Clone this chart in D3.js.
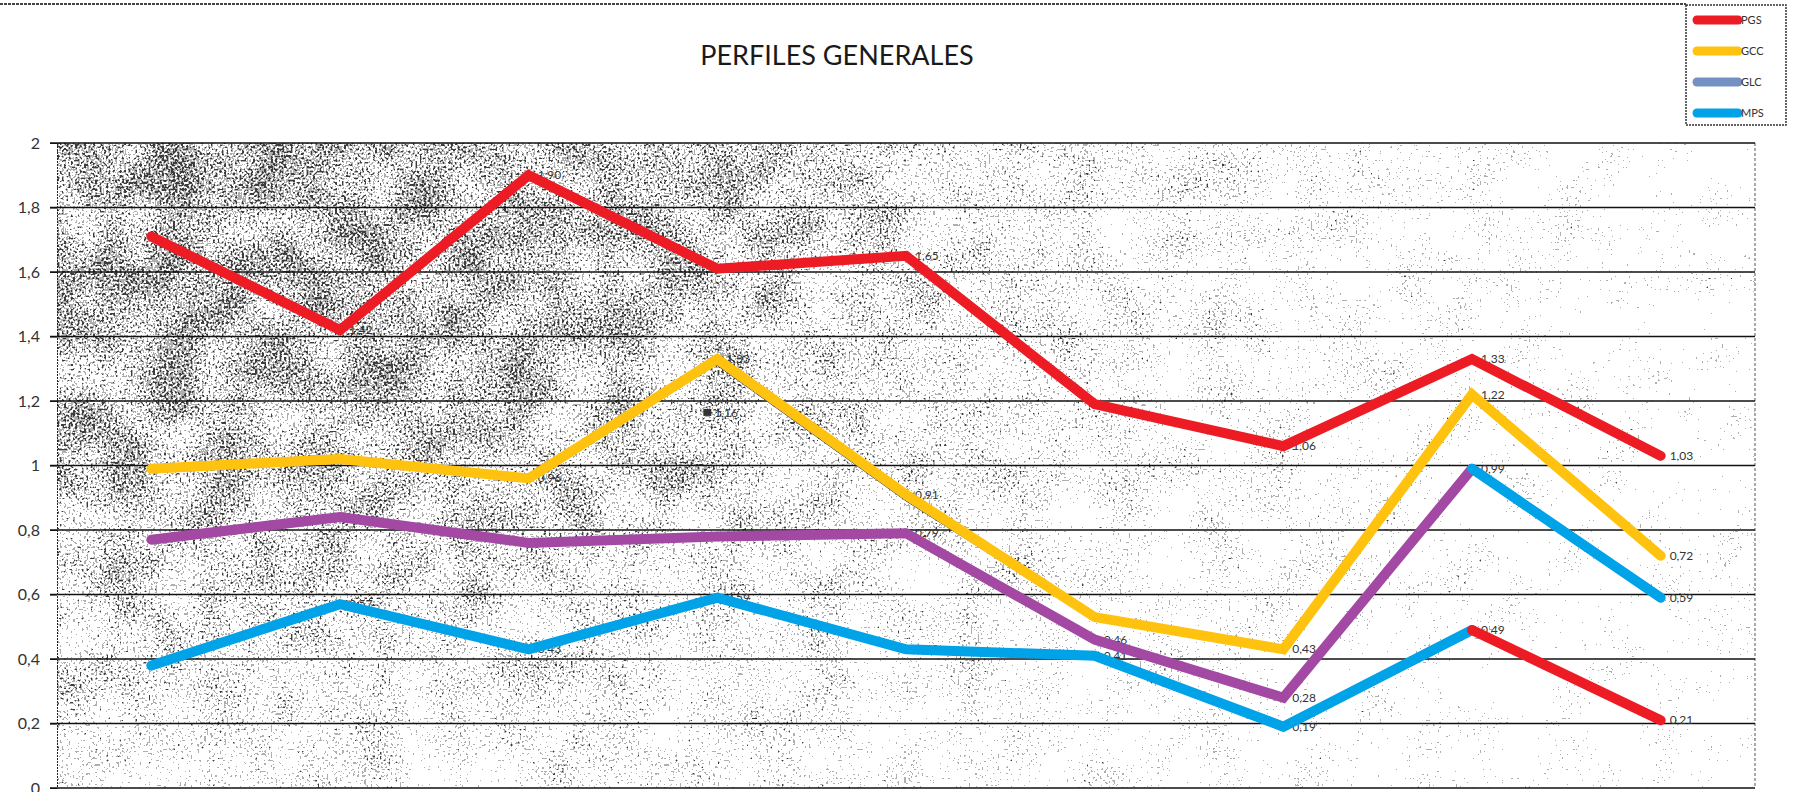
<!DOCTYPE html>
<html>
<head>
<meta charset="utf-8">
<script src="https://cdn.jsdelivr.net/npm/d3@7"></script>
<style>
  body { margin: 0; background: #fff; }
  svg { display: block; }
</style>
</head>
<body>
<div id="chart"></div>
<script>
var width = 1793;
var height = 792;

// data
var categories = ["1", "2", "3", "4", "5", "6", "7", "8", "9"];
var yTicks = [0, 0.2, 0.4, 0.6, 0.8, 1, 1.2, 1.4, 1.6, 1.8, 2];
var pgs    = [1.71, 1.42, 1.90, 1.61, 1.65, 1.19, 1.06, 1.33, 1.03];
var gcc    = [0.99, 1.02, 0.96, 1.33, 0.91, 0.53, 0.43, 1.22, 0.72];
var glc    = [null, null, null, 1.31, 0.89, 0.52, 0.43, 1.20, null];
var morado = [0.77, 0.84, 0.76, 0.78, 0.79, 0.46, 0.28, 0.99, 0.59];
var mps    = [0.38, 0.57, 0.43, 0.59, 0.43, 0.41, 0.19, 0.49, 0.21];
// which points carry a value label (1 = yes)
var pgsLab    = [0, 1, 1, 0, 1, 0, 1, 1, 1];
var gccLab    = [0, 0, 1, 1, 1, 0, 1, 1, 1];
var moradoLab = [0, 0, 0, 0, 1, 1, 1, 1, 1];
var mpsLab    = [0, 1, 1, 1, 1, 1, 1, 1, 1];
var extraLab  = [{ cat: "4", value: 1.16 }];
var legendNames  = ["PGS", "GCC", "GLC", "MPS"];
var legendColors = ["#ed1c24", "#ffc20e", "#7391c2", "#00a2e8"];

var RED = "#ed1c24", YELLOW = "#ffc20e", PURPLE = "#a349a4", CYAN = "#00a2e8";

var plotLeft = 57, plotRight = 1755, plotTop = 143, plotBottom = 788;

var svg = d3.select("#chart").append("svg")
    .attr("width", width)
    .attr("height", height);

var x = d3.scaleBand().domain(categories).range([plotLeft, plotRight]);
var y = d3.scaleLinear().domain([0, 2]).range([plotBottom, plotTop]);
var cx = function(i) { return x(categories[i]) + x.bandwidth() / 2; };
var fmt = function(v) { return d3.format(".2f")(v).replace(".", ","); };

// speckled grey background (deterministic noise, denser top-left)
var defs = svg.append("defs");
var grad = defs.append("radialGradient")
    .attr("id", "fade")
    .attr("gradientUnits", "userSpaceOnUse")
    .attr("cx", 250).attr("cy", 160).attr("r", 1450)
    .attr("gradientTransform", "translate(250,160) scale(1,0.7) translate(-250,-160)");
[[0, 1.0], [0.3, 0.9], [0.5, 0.72], [0.7, 0.56], [1, 0.4]].forEach(function(s) {
    var g = Math.round(s[1] * 255);
    grad.append("stop").attr("offset", s[0]).attr("stop-color", d3.rgb(g, g, g));
});
var f = defs.append("filter")
    .attr("id", "speckle")
    .attr("x", 0).attr("y", 0).attr("width", 1).attr("height", 1)
    .attr("color-interpolation-filters", "sRGB");
f.append("feTurbulence")
    .attr("type", "fractalNoise").attr("baseFrequency", 0.45)
    .attr("numOctaves", 1).attr("seed", 4).attr("result", "fine");
f.append("feColorMatrix")
    .attr("in", "fine").attr("type", "matrix")
    .attr("values", "1 0 0 0 0  0 1 0 0 0  0 0 1 0 0  0 0 0 0 1")
    .attr("result", "fineO");
f.append("feTurbulence")
    .attr("type", "fractalNoise").attr("baseFrequency", 0.02)
    .attr("numOctaves", 2).attr("seed", 9).attr("result", "coarse");
f.append("feColorMatrix")
    .attr("in", "coarse").attr("type", "matrix")
    .attr("values", "1 0 0 0 0  0 1 0 0 0  0 0 1 0 0  0 0 0 0 1")
    .attr("result", "coarseO");
f.append("feComposite")
    .attr("in", "fineO").attr("in2", "coarseO")
    .attr("operator", "arithmetic")
    .attr("k1", 0).attr("k2", 1).attr("k3", 0.3).attr("k4", -0.15)
    .attr("result", "noise");
f.append("feComposite")
    .attr("in", "noise").attr("in2", "SourceGraphic")
    .attr("operator", "arithmetic")
    .attr("k1", 0).attr("k2", 1).attr("k3", 0.45).attr("k4", -0.17)
    .attr("result", "mix");
f.append("feColorMatrix")
    .attr("in", "mix").attr("type", "matrix")
    .attr("values", "0 0 0 0 0.1  0 0 0 0 0.1  0 0 0 0 0.1  1 0 0 0 0")
    .attr("result", "dots");
var ct = f.append("feComponentTransfer").attr("in", "dots");
ct.append("feFuncA").attr("type", "discrete")
    .attr("tableValues", "0 0 0 0 0 0 0.35 0.85");

svg.append("rect")
    .attr("x", plotLeft).attr("y", plotTop)
    .attr("width", plotRight - plotLeft).attr("height", plotBottom - plotTop)
    .attr("fill", "url(#fade)")
    .attr("filter", "url(#speckle)");

// top border and right border
svg.append("line")
    .attr("x1", 0).attr("x2", 1686).attr("y1", 4).attr("y2", 4)
    .attr("stroke", "#444").attr("stroke-width", 2)
    .attr("stroke-dasharray", "3 1");
svg.append("line")
    .attr("x1", plotRight).attr("x2", plotRight).attr("y1", plotTop).attr("y2", plotBottom)
    .attr("stroke", "#555").attr("stroke-width", 1)
    .attr("stroke-dasharray", "3 2");

// gridlines
svg.append("g")
    .selectAll("line")
    .data(yTicks)
    .join("line")
    .attr("x1", plotLeft - 7).attr("x2", plotRight)
    .attr("y1", function(d) { return y(d); })
    .attr("y2", function(d) { return y(d); })
    .attr("stroke", "#111")
    .attr("stroke-width", 1.5);

// y axis
var yAxis = d3.axisLeft(y)
    .tickValues(yTicks)
    .tickSize(7)
    .tickPadding(10)
    .tickFormat(function(d) { return d3.format("")(+d.toFixed(1)).replace(".", ","); });
var ga = svg.append("g")
    .attr("transform", "translate(" + plotLeft + ",0)")
    .call(yAxis);
ga.select(".domain").attr("stroke", "#222").attr("stroke-dasharray", "2 1");
ga.selectAll(".tick line").attr("stroke", "#111");
ga.selectAll("text")
    .attr("fill", "#333")
    .style("font-family", "Lato, sans-serif")
    .style("font-size", "16px");

// title
svg.append("text")
    .attr("x", 837).attr("y", 65)
    .attr("text-anchor", "middle")
    .attr("fill", "#1a1a1a")
    .style("font-family", "Lato, sans-serif")
    .style("font-size", "27px")
    .text("PERFILES GENERALES");

// value labels (drawn before lines, lines partly hide them)
var labG = svg.append("g")
    .style("font-family", "Lato, sans-serif")
    .style("font-size", "12px")
    .attr("fill", "#333");
[[pgs, pgsLab], [gcc, gccLab], [morado, moradoLab], [mps, mpsLab]].forEach(function(s) {
    s[0].forEach(function(v, i) {
        if (v == null || !s[1][i]) return;
        labG.append("text")
            .attr("x", cx(i) + 9)
            .attr("y", y(v) + 4)
            .text(fmt(v));
    });
});
extraLab.forEach(function(d) {
    var px = x(d.cat) + x.bandwidth() / 2;
    labG.append("rect")
        .attr("x", px - 14).attr("y", y(d.value) - 5)
        .attr("width", 8).attr("height", 7)
        .attr("fill", "#333");
    labG.append("text")
        .attr("x", px - 3).attr("y", y(d.value) + 3)
        .text(fmt(d.value));
});

var line = d3.line()
    .defined(function(d) { return d.v != null; })
    .x(function(d) { return cx(d.i); })
    .y(function(d) { return y(d.v); });

function drawLine(values, color, w, from, to) {
    var pts = values.map(function(v, i) { return { v: v, i: i }; })
        .filter(function(d) { return d.i >= from && d.i <= to; });
    svg.append("path")
        .attr("d", line(pts))
        .attr("fill", "none")
        .attr("stroke", color)
        .attr("stroke-width", w)
        .attr("stroke-linejoin", "miter")
        .attr("stroke-linecap", "round");
}

drawLine(glc, "#555", 1, 0, 8);
drawLine(morado, PURPLE, 10, 0, 7);
drawLine(mps, CYAN, 10, 0, 7);
drawLine(morado, CYAN, 10, 7, 8);
drawLine(gcc, YELLOW, 10, 0, 8);
drawLine(pgs, RED, 10, 0, 8);
drawLine(mps, RED, 10, 7, 8);

// legend
var lg = svg.append("g");
lg.append("rect")
    .attr("x", 1686).attr("y", 5)
    .attr("width", 100).attr("height", 120)
    .attr("fill", "#fff")
    .attr("stroke", "#333")
    .attr("stroke-width", 1.5)
    .attr("stroke-dasharray", "2 1");
legendNames.forEach(function(name, i) {
    var ly = 20 + i * 31;
    lg.append("line")
        .attr("x1", 1697).attr("x2", 1738)
        .attr("y1", ly).attr("y2", ly)
        .attr("stroke", legendColors[i])
        .attr("stroke-width", 9)
        .attr("stroke-linecap", "round");
    lg.append("text")
        .attr("x", 1741).attr("y", ly + 4)
        .attr("fill", "#333")
        .style("font-family", "Lato, sans-serif")
        .style("font-size", "11px")
        .text(name);
});
</script>
</body>
</html>
